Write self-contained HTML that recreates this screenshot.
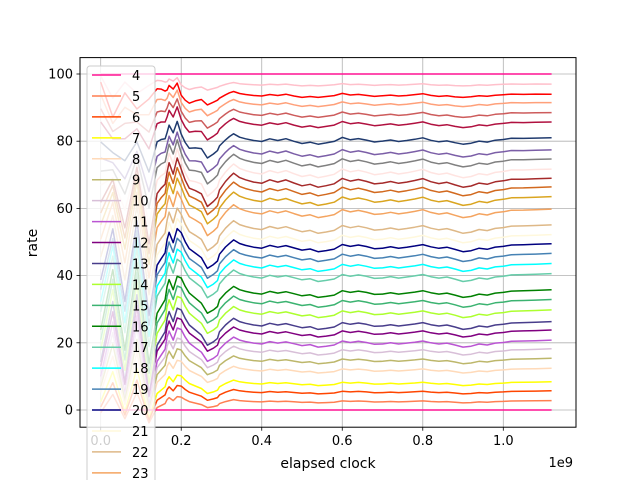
<!DOCTYPE html>
<html><head><meta charset="utf-8">
<style>
html,body{margin:0;padding:0;background:#fff;width:640px;height:480px;overflow:hidden;}
svg{display:block;overflow:hidden;font-family:"DejaVu Sans","Liberation Sans",sans-serif;}
</style></head>
<body>
<svg id="chart" width="640" height="480" viewBox="0 0 640 480" xmlns="http://www.w3.org/2000/svg">
<rect x="0" y="0" width="640" height="480" fill="#fff"/>
<g id="grid"></g>
<g id="series" clip-path="url(#clip)"></g>
<defs><clipPath id="clip"><rect x="80" y="57.6" width="496" height="369.6"/></clipPath></defs>
<rect x="80" y="57.6" width="496" height="369.6" fill="none" stroke="#000" stroke-width="1"/>
<g id="ticks"></g>
<text x="328" y="468" font-size="14" text-anchor="middle">elapsed clock</text>
<text x="573" y="467" font-size="13" text-anchor="end">1e9</text>
<text transform="translate(37,243) rotate(-90)" font-size="14" text-anchor="middle">rate</text>
<g id="legend"></g>
</svg>
<script>
const xs=[0,0.03,0.06,0.09,0.12,0.14,0.15,0.16,0.165,0.17,0.18,0.19,0.2,0.21,0.22,0.235,0.25,0.265,0.28,0.29,0.295,0.31,0.32,0.33,0.345,0.36,0.38,0.4,0.42,0.44,0.46,0.48,0.5,0.52,0.54,0.56,0.58,0.6,0.62,0.64,0.66,0.68,0.7,0.72,0.74,0.76,0.78,0.8,0.82,0.84,0.86,0.88,0.9,0.92,0.94,0.96,0.98,1.0,1.02,1.05,1.08,1.12];
const profileLow=[-12,6,-18,8,-22,-7,-5,-3,1,3,0,4,3.5,1,-1,-2.5,-4,-7,-6,-5,-3,-1,0,1,0,-0.5,-1,-1.3,-0.5,-1,-0.6,-1.2,-1.8,-1.5,-2.3,-2,-1.6,-0.3,-0.8,-0.4,-0.8,-1.4,-1.3,-0.9,-1.3,-1.0,-0.7,-0.3,-0.9,-1.3,-1.0,-1.6,-2.3,-2.0,-1.3,-1.6,-1.0,-0.8,-0.4,-0.3,-0.2,0];
const profileHigh=[6,-8,4,-6,3,3,2.5,1.5,1,2,1.5,2.5,-1,-2,-2.5,-1.5,-0.8,-1.8,-1.2,-0.8,-0.6,0,0.4,0.6,0.2,0,-0.2,-0.3,0,-0.2,0.1,-0.3,-0.6,-0.4,-0.5,-0.3,-0.1,0.3,-0.1,0,-0.2,-0.4,-0.2,-0.1,-0.3,-0.2,0,0.2,-0.2,-0.4,-0.3,-0.5,-0.5,-0.4,-0.2,-0.3,-0.1,0,0.1,0,0.05,0];
const colors=["#ff1493","#ffc0cb","#ff0000","#ffa07a","#cd5c5c","#b0103f","#1f3a6e","#7b5ea7","#808080","#ffe4e1","#a52a2a","#d2691e","#daa520","#f4a460","#deb887","#fff8dc","#000080","#4682b4","#00ffff","#66cdaa","#008000","#3cb371","#adff2f","#483d8b","#800080","#ba55d3","#d8bfd8","#bdb76b","#ffdab9","#ffff00","#ff4500","#ff7f50","#ff1493"];
const finals=[100,97,94,91.5,88.5,85.7,81,77.4,74.7,71.7,69,66.4,63.5,59.8,55.1,52.2,49.5,46.6,43.6,40.6,35.8,32.9,29.8,26.3,23.8,20.8,18.2,15.4,12.4,8.4,5.7,2.8,0];
const ampLow=[0,0.1,0.2,0.3,0.4,0.5,0.6,0.7,0.8,0.9,1.0,1.0,1.0,1.0,1.0,1.0,1.0,1.0,1.0,1.0,1.0,1.0,1.0,1.0,0.9,0.9,0.8,0.7,0.6,0.5,0.4,0.3,0];
const ampHigh=[0,0.6,1,1,1,1,1,1,1,1,0.8,0.7,0.6,0.5,0.4,0.3,0.2,0.2,0.1,0.1,0,0,0,0,0,0,0,0,0,0,0,0,0];
const legendLabels=["4","5","6","7","8","9","10","11","12","13","14","15","16","17","18","19","20","21","22","23","24"];
const legendColors=["#ff1493","#ff7f50","#ff4500","#ffff00","#ffdab9","#bdb76b","#d8bfd8","#ba55d3","#800080","#483d8b","#adff2f","#3cb371","#008000","#66cdaa","#00ffff","#4682b4","#000080","#fff8dc","#deb887","#f4a460","#daa520"];
const xTicks=[0.0,0.2,0.4,0.6,0.8,1.0];
const yTicks=[0,20,40,60,80,100];

const NS="http://www.w3.org/2000/svg";
function X(v){return 100.7+v*402.6;}
function Y(v){return 410-v*3.36;}
function mk(tag,attrs,parent){const e=document.createElementNS(NS,tag);for(const k in attrs)e.setAttribute(k,attrs[k]);parent.appendChild(e);return e;}
const grid=document.getElementById('grid'),ticks=document.getElementById('ticks');
xTicks.forEach(t=>{
  const gl=mk('line',{x1:X(t),x2:X(t),y1:57.6,y2:427.2,stroke:'#b0b0b0','stroke-width':0.8},grid);
  
  
  mk('line',{x1:X(t),x2:X(t),y1:427.2,y2:430.7,stroke:'#000','stroke-width':0.8},ticks);
  const tx=mk('text',{x:X(t),y:445,'font-size':13,'text-anchor':'middle'},ticks);
  tx.textContent=t.toFixed(1);
  
  
});
yTicks.forEach(t=>{
  const gl=mk('line',{x1:80,x2:576,y1:Y(t),y2:Y(t),stroke:'#b0b0b0','stroke-width':0.8},grid);
  
  
  mk('line',{x1:76.5,x2:80,y1:Y(t),y2:Y(t),stroke:'#000','stroke-width':0.8},ticks);
  const tx=mk('text',{x:73,y:Y(t)+4.5,'font-size':13,'text-anchor':'end'},ticks);
  tx.textContent=String(t);
  
  
});
const sg=document.getElementById('series');
finals.forEach((f,i)=>{
  const pts=xs.map((x,j)=>{let v=f+ampLow[i]*profileLow[j]+ampHigh[i]*profileHigh[j];v=Math.min(100.5,v);return X(x).toFixed(1)+','+Y(v).toFixed(1);});
  const p=mk('polyline',{points:pts.join(' '),fill:'none',stroke:colors[i],'stroke-width':1.5,'stroke-linejoin':'round'},sg);
  
  
});
const lg=document.getElementById('legend');
const box=mk('rect',{x:87,y:66,width:68,height:420,rx:3,fill:'#fff','fill-opacity':0.8,stroke:'#cccccc','stroke-width':1},lg);


legendLabels.forEach((l,i)=>{
  const y=75+i*20.94;
  const ln=mk('line',{x1:92,x2:121,y1:y,y2:y,stroke:legendColors[i],'stroke-width':1.5},lg);
  
  
  const t=mk('text',{x:132,y:y+5,'font-size':13},lg);
  t.textContent=l;
  
  
});
</script>
</body></html>
